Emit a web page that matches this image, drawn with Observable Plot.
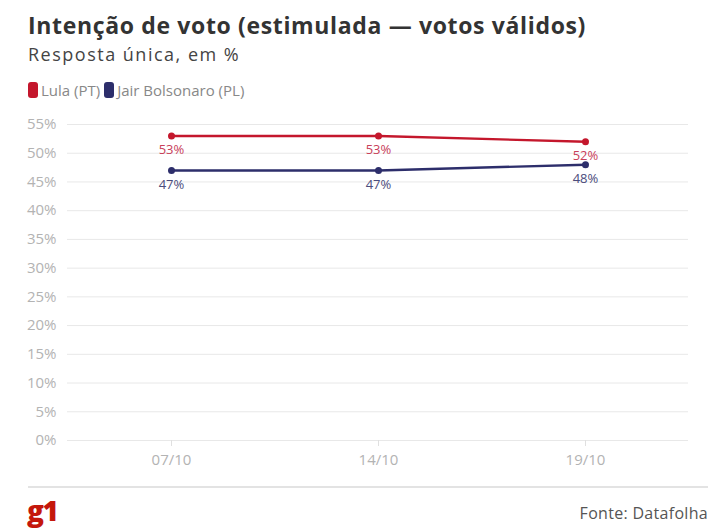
<!DOCTYPE html>
<html><head><meta charset="utf-8">
<script src="https://cdn.jsdelivr.net/npm/d3@7"></script>
<script src="https://cdn.jsdelivr.net/npm/@observablehq/plot@0.6"></script>
<style>
body{margin:0;background:#fff;font-family:"Open Sans",sans-serif;width:720px;height:530px;position:relative;overflow:hidden}
#title{position:absolute;left:28px;top:12px;font-size:23px;line-height:26px;font-weight:700;color:#333;letter-spacing:0.65px;white-space:nowrap}
#sub{position:absolute;left:28px;top:42.5px;font-size:18px;line-height:22px;color:#444;letter-spacing:1.5px}
#legend{position:absolute;left:28px;top:81px;font-size:15px;line-height:18px;color:#888;display:flex;align-items:center}
.sw{display:inline-block;width:10px;height:16px;border-radius:3px;margin-right:3px}
.li{display:flex;align-items:center;margin-right:4px}
#chart{position:absolute;left:0;top:110px}
#rule{position:absolute;left:28px;top:486px;width:680px;height:2px;background:#e3e3e3}
#logo{position:absolute;left:27px;top:491px;font-size:28px;font-weight:800;color:#c4170c;letter-spacing:-1.5px;font-family:"Open Sans",sans-serif}
#src{position:absolute;right:12px;top:502px;font-size:16px;color:#555;letter-spacing:0.3px}
</style></head>
<body>
<div id="title">Intenção de voto (estimulada — votos válidos)</div>
<div id="sub">Resposta única, em %</div>
<div id="legend"></div>
<div id="chart"></div>
<div id="rule"></div>
<div id="logo">g1</div>
<div id="src">Fonte: Datafolha</div>
<script>
const dates = ["07/10", "14/10", "19/10"];
const lula = [53, 53, 52];
const bolsonaro = [47, 47, 48];
const seriesNames = ["Lula (PT)", "Jair Bolsonaro (PL)"];
const seriesColors = ["#c4172c", "#2d2e6b"];
const labelColors = ["#c8405a", "#4b4c7c"];
const yTicks = [0,5,10,15,20,25,30,35,40,45,50,55];

const data = [];
dates.forEach((d,i)=>{
  data.push({date:d, value:lula[i], s:seriesNames[0]});
  data.push({date:d, value:bolsonaro[i], s:seriesNames[1]});
});

const leg = document.getElementById("legend");
seriesNames.forEach((n,i)=>{
  const el = document.createElement("span");
  el.className="li";
  el.innerHTML = `<span class="sw" style="background:${seriesColors[i]}"></span>${n}`;
  leg.appendChild(el);
});

const color = {domain: seriesNames, range: seriesColors};
const chart = Plot.plot({
  width: 720, height: 365,
  marginTop: 14, marginBottom: 35, marginLeft: 67, marginRight: 32,
  style: {fontFamily: '"Open Sans", sans-serif', fontSize: "13px", color: "#aaa", background: "transparent"},
  x: {type: "point", domain: dates, padding: 0.5, label: null},
  y: {domain: [0, 55], label: null},
  color: color,
  marks: [
    Plot.gridY(yTicks, {stroke: "#e8e8e8", strokeOpacity: 1}),
    Plot.ruleX([0], {frameAnchor: "left", stroke: "#e8e8e8"}),
    Plot.axisY(yTicks, {tickSize: 0, tickPadding: 11, tickFormat: d => d + "%", fill: "#b3b3b3", fontSize: 15, style: {letterSpacing: "0.3px"}}),
    Plot.axisX({tickSize: 6, stroke: "#e0e0e0", tickPadding: 8, fill: "#b3b3b3", fontSize: 15, style: {letterSpacing: "0.3px"}}),
    Plot.line(data, {x: "date", y: "value", z: "s", stroke: "s", strokeWidth: 2.4}),
    Plot.dot(data, {x: "date", y: "value", fill: "s", r: 3.5}),
    Plot.text(data, {x: "date", y: "value", text: d => d.value + "%", dy: 14, fill: d => labelColors[seriesNames.indexOf(d.s)], fontSize: 13})
  ]
});
document.getElementById("chart").appendChild(chart);
</script>
</body></html>
